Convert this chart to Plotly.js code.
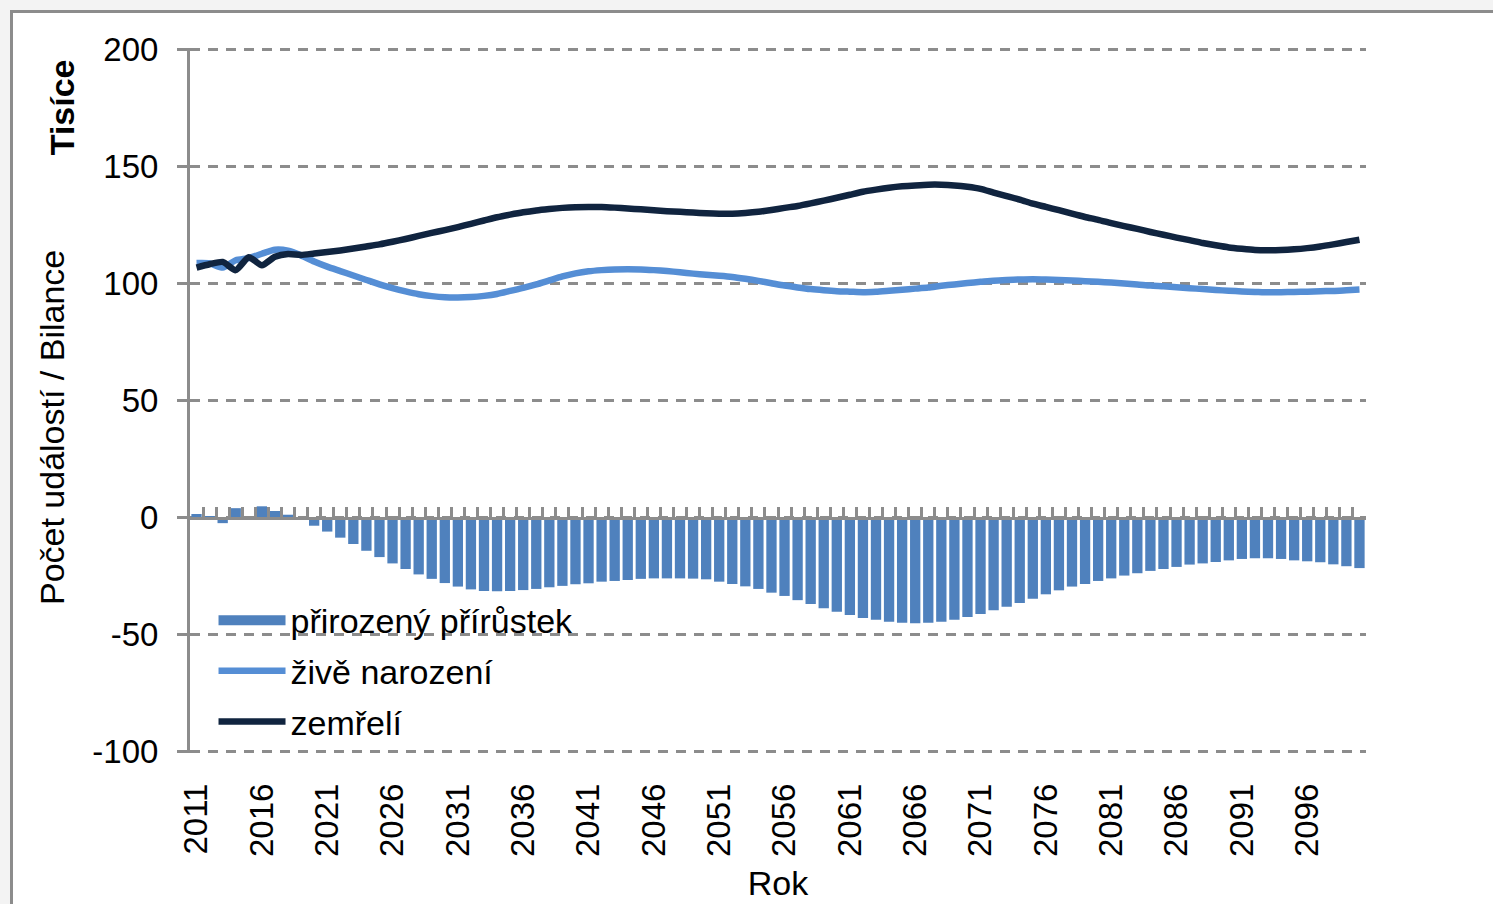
<!DOCTYPE html>
<html>
<head>
<meta charset="utf-8">
<script src="https://cdn.plot.ly/plotly-3.0.1.min.js"></script>
<style>
  html, body { margin: 0; padding: 0; overflow: hidden; background: #f3f3f3; width: 1493px; height: 904px; }
  #frame { position: absolute; left: 10px; top: 10px; width: 1483px; height: 894px;
           border-top: 3px solid #8c8c8c; border-left: 3px solid #8c8c8c; background: #ffffff; }
  #chart { width: 1480px; height: 891px; }
</style>
</head>
<body>
<div id="frame"><div id="chart"></div></div>
<script>
// ---- data (thousands) ----
const years = ['2011','2012','2013','2014','2015','2016','2017','2018','2019','2020',
  '2021','2022','2023','2024','2025','2026','2027','2028','2029','2030',
  '2031','2032','2033','2034','2035','2036','2037','2038','2039','2040',
  '2041','2042','2043','2044','2045','2046','2047','2048','2049','2050',
  '2051','2052','2053','2054','2055','2056','2057','2058','2059','2060',
  '2061','2062','2063','2064','2065','2066','2067','2068','2069','2070',
  '2071','2072','2073','2074','2075','2076','2077','2078','2079','2080',
  '2081','2082','2083','2084','2085','2086','2087','2088','2089','2090',
  '2091','2092','2093','2094','2095','2096','2097','2098','2099','2100'];

const tickLabels = ['2011','2016','2021','2026','2031','2036','2041','2046','2051',
  '2056','2061','2066','2071','2076','2081','2086','2091','2096'];

// přirozený přírůstek (natural increase)
const naturalIncrease = [1.5,0.4,-2.4,4.0,-0.4,4.8,2.8,1.2,-0.3,-3.5,
  -6.0,-8.6,-11.3,-14.2,-16.9,-19.6,-22.0,-24.3,-26.2,-28.0,
  -29.5,-30.7,-31.4,-31.5,-31.4,-31.0,-30.5,-29.8,-29.2,-28.5,
  -28.1,-27.4,-27.1,-26.7,-26.2,-26.0,-26.0,-26.0,-26.1,-26.4,
  -27.4,-28.4,-29.4,-30.5,-32.1,-33.5,-35.3,-36.9,-38.8,-40.2,
  -41.6,-42.9,-43.7,-44.5,-45.0,-45.2,-44.9,-44.5,-43.7,-42.5,
  -41.2,-39.6,-38.1,-36.5,-34.7,-32.8,-31.1,-29.5,-28.4,-27.1,
  -26.0,-24.8,-23.8,-22.8,-22.0,-21.1,-20.1,-19.6,-19.0,-18.3,
  -17.7,-17.4,-17.4,-17.7,-18.3,-18.7,-19.1,-20.0,-20.8,-21.6];

// živě narození (live births)
const births = [108.7,108.6,106.8,109.9,110.8,112.7,114.4,114.0,112.0,109.4,
  107.2,105.3,103.4,101.5,99.6,98.0,96.6,95.4,94.6,94.1,
  94.0,94.2,94.7,95.5,96.8,98.1,99.6,101.3,103.0,104.3,
  105.2,105.7,106.0,106.1,106.0,105.7,105.3,104.8,104.2,103.7,
  103.3,102.8,102.0,101.1,100.1,99.1,98.3,97.6,97.1,96.7,
  96.5,96.3,96.5,96.9,97.3,97.8,98.3,99.0,99.6,100.2,
  100.7,101.2,101.5,101.7,101.8,101.7,101.5,101.3,101.0,100.7,
  100.4,100.0,99.6,99.1,98.8,98.4,98.0,97.6,97.2,96.9,
  96.6,96.4,96.2,96.3,96.4,96.5,96.7,96.8,97.1,97.4];

// zemřelí (deaths)
const deaths = [106.8,108.2,109.2,105.7,111.2,107.8,111.4,112.6,112.2,112.8,
  113.4,114.1,114.9,115.8,116.7,117.8,119.0,120.3,121.6,122.8,
  124.1,125.5,126.9,128.3,129.4,130.4,131.2,131.8,132.3,132.6,
  132.7,132.7,132.4,132.0,131.7,131.3,130.9,130.6,130.3,130.0,
  129.8,129.8,130.1,130.6,131.4,132.3,133.1,134.2,135.4,136.6,
  137.9,139.2,140.1,140.9,141.5,141.9,142.2,142.2,141.9,141.3,
  140.4,138.8,137.3,135.8,134.1,132.7,131.3,129.8,128.4,127.2,
  125.8,124.5,123.3,122.0,120.8,119.6,118.5,117.3,116.3,115.4,
  114.8,114.3,114.2,114.3,114.6,115.1,115.8,116.7,117.7,118.7];

const yTicks = [-100,-50,0,50,100,150,200];
const yTickText = ['-100','-50','0','50','100','150','200'];

// ---- styling ----
const FONT = 'Liberation Sans, Arial, sans-serif';
const GRAY = '#8c8c8c';
const BAR_COLOR = '#4f81bd';
const Y_MIN = -100.6, Y_MAX = 200.6;   // slight padding so the end gridlines are drawn
const boundaries = [];
for (let i = 0; i <= years.length; i++) boundaries.push(i - 0.5);

const traces = [
  { type: 'bar', name: 'přirozený přírůstek', x: years, y: naturalIncrease,
    legendgroup: 'g1', showlegend: false,
    marker: { color: BAR_COLOR, line: { width: 0 } }, hoverinfo: 'x+y' },
  // legend swatch for the bar series (wide rectangle, as in the original legend)
  { type: 'scatter', mode: 'lines', name: 'přirozený přírůstek', x: [null], y: [null],
    legendgroup: 'g1', showlegend: true, hoverinfo: 'skip',
    line: { color: BAR_COLOR, width: 20 } },
  { type: 'scatter', mode: 'lines', name: 'živě narození', x: years, y: births,
    legendgroup: 'g2',
    line: { color: '#558ed5', width: 6.5, shape: 'spline', smoothing: 0.6 } },
  { type: 'scatter', mode: 'lines', name: 'zemřelí', x: years, y: deaths,
    legendgroup: 'g3',
    line: { color: '#10243f', width: 6.5, shape: 'spline', smoothing: 0.6 } },
  { type: 'scatter', mode: 'lines', x: [], y: [], xaxis: 'x2', yaxis: 'y',
    showlegend: false, hoverinfo: 'skip' }
];

const layout = {
  width: 1480, height: 891,
  margin: { l: 177, r: 127, t: 35, b: 151 },
  paper_bgcolor: '#ffffff', plot_bgcolor: '#ffffff',
  font: { family: FONT, color: '#000000', size: 33 },
  bargap: 0.21,
  showlegend: true,
  xaxis: {
    type: 'category', range: [-0.5, years.length - 0.5],
    tickmode: 'array', tickvals: tickLabels, ticktext: tickLabels,
    tickangle: -90, ticks: '', showline: false, showgrid: false, zeroline: false,
    tickfont: { family: FONT, size: 33, color: '#000' },
    ticklabelstandoff: 23,
    title: { text: 'Rok', font: { family: FONT, size: 34, color: '#000' }, standoff: 15 },
    automargin: false
  },
  xaxis2: {
    overlaying: 'x', anchor: 'free', position: (0 - Y_MIN) / (Y_MAX - Y_MIN), side: 'bottom',
    type: 'linear', range: [-0.5, years.length - 0.5],
    tickmode: 'array', tickvals: boundaries,
    ticks: 'inside', ticklen: 10, tickwidth: 2.5, tickcolor: GRAY,
    showline: true, linecolor: GRAY, linewidth: 3,
    showticklabels: false, showgrid: false, zeroline: false
  },
  yaxis: {
    range: [Y_MIN, Y_MAX], tickmode: 'array', tickvals: yTicks, ticktext: yTickText,
    ticks: 'outside', ticklen: 10, tickwidth: 2.5, tickcolor: GRAY,
    showline: true, linecolor: GRAY, linewidth: 3,
    showgrid: true, gridcolor: GRAY, gridwidth: 2.5, griddash: '10px,8px',
    zeroline: false,
    tickfont: { family: FONT, size: 33, color: '#000' },
    ticklabelstandoff: 12, automargin: false
  },
  legend: {
    x: 0.02, y: 0.229, xanchor: 'left', yanchor: 'top',
    bgcolor: 'rgba(0,0,0,0)', borderwidth: 0,
    font: { family: FONT, size: 34, color: '#000' },
    itemwidth: 67, traceorder: 'grouped', tracegroupgap: 3.5
  },
  annotations: [
    { text: '<b>Tisíce</b>', xref: 'paper', yref: 'paper', x: -0.1088, y: 0.916,
      xanchor: 'center', yanchor: 'middle', textangle: -90, showarrow: false,
      font: { family: FONT, size: 34, color: '#000' } },
    { text: 'Počet událostí / Bilance', xref: 'paper', yref: 'paper', x: -0.1173, y: 0.461,
      xanchor: 'center', yanchor: 'middle', textangle: -90, showarrow: false,
      font: { family: FONT, size: 34, color: '#000' } }
  ]
};

Plotly.newPlot('chart', traces, layout, { displayModeBar: false, responsive: false });
</script>
</body>
</html>
